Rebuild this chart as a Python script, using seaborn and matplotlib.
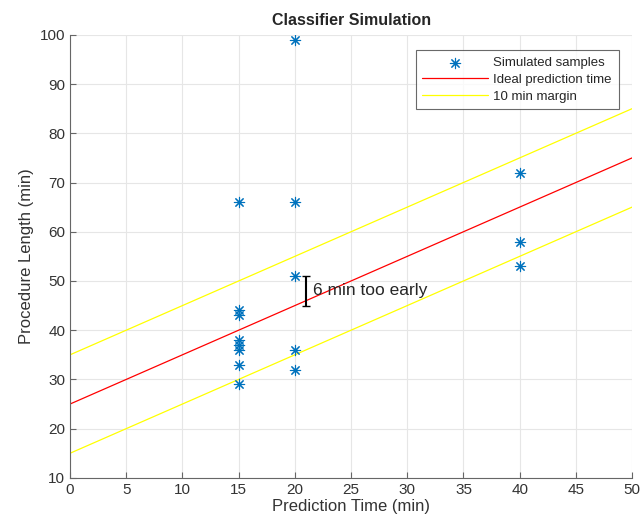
import matplotlib
matplotlib.use("Agg")
import matplotlib.pyplot as plt
import seaborn as sns
import numpy as np
import pandas as pd

pred_time = [15, 15, 15, 15, 15, 15, 15, 15, 20, 20, 20, 20, 20, 40, 40, 40]
proc_len = [66, 44, 43, 38, 37, 36, 33, 29, 99, 66, 51, 36, 32, 72, 58, 53]
line_x = [0, 50]
ideal_y = [25, 75]
upper_y = [35, 85]
lower_y = [15, 65]
err_x = 21
err_lo, err_hi = 45, 51

sns.set_style('white')
plt.rcParams['font.family'] = ['Liberation Sans', 'DejaVu Sans']

fig = plt.figure(figsize=(6.43, 5.28), dpi=100)
ax = fig.add_axes([0.109, 0.095, 0.874, 0.839])

df = pd.DataFrame({'x': pred_time, 'y': proc_len})
sns.scatterplot(data=df, x='x', y='y', ax=ax, marker=(8, 2, 0), s=55,
                color='#0072BD', linewidth=0.8, label='Simulated samples', zorder=3)
sns.lineplot(x=line_x, y=ideal_y, ax=ax, color='red', linewidth=0.9,
             label='Ideal prediction time')
sns.lineplot(x=line_x, y=upper_y, ax=ax, color='yellow', linewidth=0.9,
             label='10 min margin')
sns.lineplot(x=line_x, y=lower_y, ax=ax, color='yellow', linewidth=0.9,
             label='_nolegend_')

ax.errorbar([err_x], [(err_lo + err_hi) / 2], yerr=[(err_hi - err_lo) / 2],
            color='black', capsize=3, linewidth=1.5, fmt='none')
ax.text(21.6, 48, '6 min too early', fontsize=12.5, va='center')

ax.set_xlim(0, 50)
ax.set_ylim(10, 100)
ax.set_xticks(np.arange(0, 51, 5))
ax.set_yticks(np.arange(10, 101, 10))
ax.grid(True, color='#e6e6e6', linewidth=0.8)
ax.set_axisbelow(True)
for s in ['top', 'right']:
    ax.spines[s].set_visible(False)
for s in ['left', 'bottom']:
    ax.spines[s].set_color('#666666')
    ax.spines[s].set_linewidth(0.8)
ax.tick_params(direction='in', length=4, labelsize=11, colors='#666666',
               labelcolor='#333333', bottom=True, left=True)
ax.set_xlabel('Prediction Time (min)', fontsize=12, color='#333333', labelpad=2)
ax.set_ylabel('Procedure Length (min)', fontsize=12, color='#333333')
ax.set_title('Classifier Simulation', fontsize=11.5, fontweight='bold', pad=7)

leg = ax.legend(loc='upper right', bbox_to_anchor=(0.983, 0.974), fontsize=9.5,
                frameon=True, fancybox=False, edgecolor='#444444',
                borderpad=0.5, labelspacing=0.35, handlelength=5.0,
                handletextpad=0.4, borderaxespad=0.3)
leg.get_frame().set_linewidth(0.8)

fig.savefig('out.png', dpi=100)
